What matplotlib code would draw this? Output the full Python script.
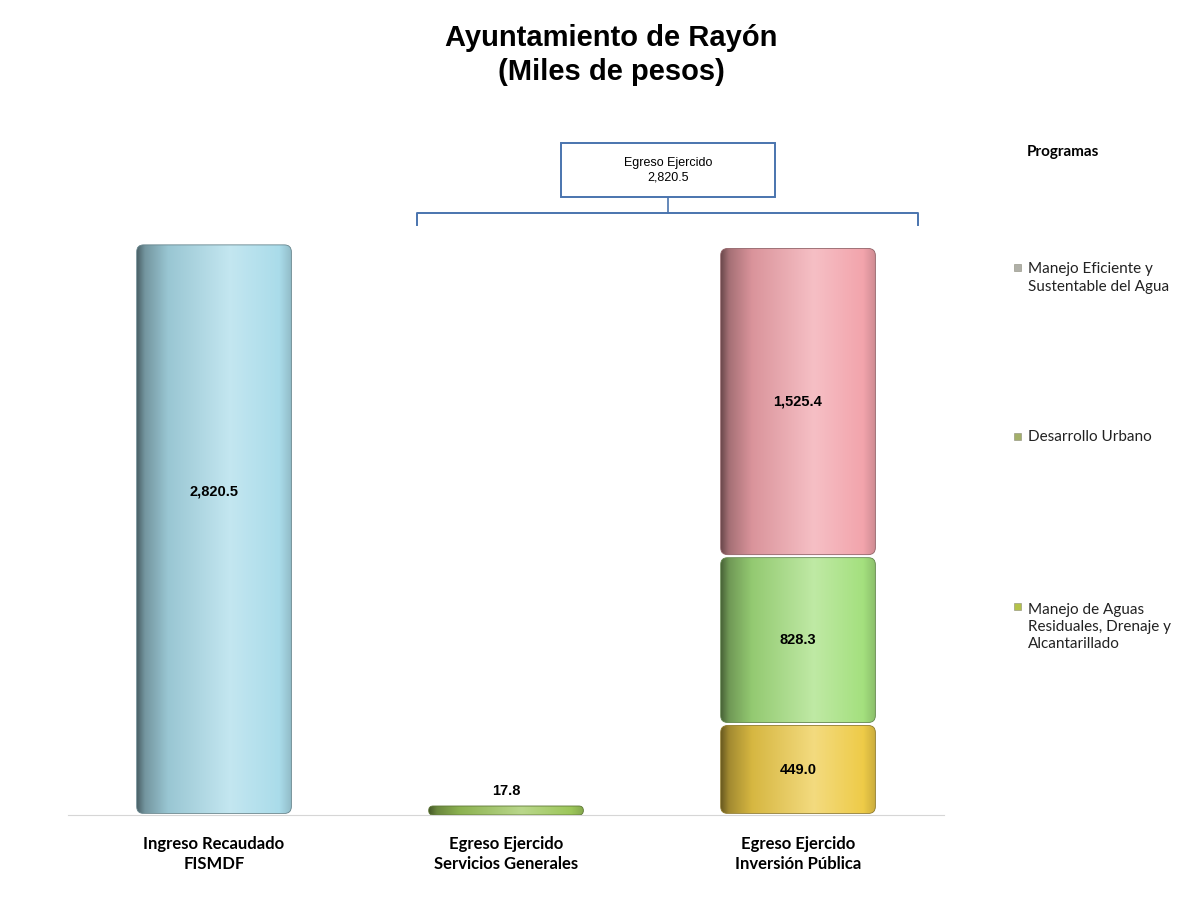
import numpy as np
import matplotlib.pyplot as plt
from matplotlib.patches import FancyBboxPatch, Rectangle
from matplotlib.colors import LinearSegmentedColormap, to_rgb

# --- data ---
categories = ['Ingreso Recaudado\nFISMDF',
              'Egreso Ejercido\nServicios Generales',
              'Egreso Ejercido\nInversión Pública']
ingreso_recaudado = 2820.5
servicios_generales = 17.8
egreso_total = 2820.5

# stacked from bottom to top in the third column
programas = ['Manejo de Aguas\nResiduales, Drenaje y\nAlcantarillado',
             'Desarrollo Urbano',
             'Manejo Eficiente y\nSustentable del Agua']
programas_valores = [449.0, 828.3, 1525.4]

# --- style ---
blue = '#aadcea'
pink = '#f2a4ac'
green = '#a4e07e'
yellow = '#eecb48'
green_dark = '#9cc65a'
prog_colors = [yellow, green, pink]
legend_marker_colors = ['#b4c24a', '#a4b06a', '#b0b0a8']

ARIAL = ['Liberation Sans', 'DejaVu Sans']
CALIBRI = ['Lato', 'DejaVu Sans']

W, H = 1202, 905
fig = plt.figure(figsize=(W / 100, H / 100), dpi=100)
ax_rect = [68 / W, 90 / H, 876 / W, 608 / H]
ax = fig.add_axes(ax_rect)
XLIM = (-0.5, 2.5)
YLIM = (0, 3000)

# data units per pixel
dx = (XLIM[1] - XLIM[0]) / (ax_rect[2] * W)
dy = (YLIM[1] - YLIM[0]) / (ax_rect[3] * H)
aspect = dy / dx


def shade_cmap(color):
    c = np.array(to_rgb(color))
    light = c + (1 - c) * 0.3
    stops = [(0.0, c * 0.45), (0.05, c * 0.68), (0.2, c * 0.9),
             (0.6, light), (0.92, c * 1.0), (1.0, c * 0.85)]
    return LinearSegmentedColormap.from_list('cyl', [(p, np.clip(v, 0, 1)) for p, v in stops])


def cylinder(x, bottom, height, width, color, min_px=0, gap_px=1.5):
    h_px = max(height / dy - 2 * gap_px, min_px)
    y0 = bottom + gap_px * dy
    h = h_px * dy
    r_px = min(7, h_px / 2, width / dx / 2)
    patch = FancyBboxPatch((x - width / 2, y0), width, h,
                           boxstyle=f'round,pad=0,rounding_size={r_px * dx}',
                           mutation_aspect=aspect,
                           facecolor='none', edgecolor=np.array(to_rgb(color)) * 0.6,
                           linewidth=0.6, zorder=3)
    ax.add_patch(patch)
    grad = np.linspace(0, 1, 256).reshape(1, -1)
    im = ax.imshow(grad, extent=[x - width / 2, x + width / 2, y0, y0 + h],
                   aspect='auto', cmap=shade_cmap(color), interpolation='bicubic', zorder=2)
    im.set_clip_path(patch)


x = np.arange(len(categories))
bw = 0.53
val_kw = dict(fontsize=10.5, fontweight='bold', family=ARIAL, zorder=4)

cylinder(x[0], 0, ingreso_recaudado, bw, blue)
# label sits a bit above the middle in the original
ax.annotate(f'{ingreso_recaudado:,.1f}', (x[0], ingreso_recaudado / 2), xytext=(0, 27),
            textcoords='offset points', ha='center', va='center', **val_kw)

cylinder(x[1], 0, servicios_generales, bw, green_dark, min_px=9, gap_px=0)
ax.annotate(f'{servicios_generales:,.1f}', (x[1], servicios_generales), xytext=(0, 10),
            textcoords='offset points', ha='center', va='bottom', **val_kw)

bottom = 0
for val, col in zip(programas_valores, prog_colors):
    cylinder(x[2], bottom, val, bw, col)
    ax.text(x[2], bottom + val / 2, f'{val:,.1f}', ha='center', va='center', **val_kw)
    bottom += val

ax.set_xlim(*XLIM)
ax.set_ylim(*YLIM)
ax.set_xticks(x)
ax.set_xticklabels(categories, fontsize=12, fontweight='bold', family=CALIBRI,
                   linespacing=1.3)
ax.tick_params(axis='x', length=0, pad=15)
ax.set_yticks([])
for s in ['top', 'left', 'right']:
    ax.spines[s].set_visible(False)
ax.spines['bottom'].set_color('#d6d6d6')
ax.spines['bottom'].set_linewidth(0.8)

# --- bracket and total box over the expenditure columns ---
line_col = '#4a74ae'
br_left, br_right = x[1] - 0.305, x[2] + 0.41
br_y = 2970
tick_y = 2911
ax.plot([br_left, br_left, br_right, br_right], [tick_y, br_y, br_y, tick_y],
        color=line_col, lw=1.4, clip_on=False, zorder=5)
box_cx = (br_left + br_right) / 2 + 0.002
box_w = 0.733
box_y0, box_y1 = 3049, 3315
ax.plot([box_cx, box_cx], [br_y, box_y0], color=line_col, lw=1.2, clip_on=False)
ax.add_patch(Rectangle((box_cx - box_w / 2, box_y0), box_w, box_y1 - box_y0,
                       facecolor='white', edgecolor=line_col, lw=1.4, clip_on=False, zorder=5))
ax.text(box_cx, (box_y0 + box_y1) / 2, f'Egreso Ejercido\n{egreso_total:,.1f}',
        ha='center', va='center', fontsize=9, family=ARIAL, linespacing=1.35,
        zorder=6, clip_on=False)

# --- title ---
fig.text(611 / W, 1 - 55 / H, 'Ayuntamiento de Rayón\n(Miles de pesos)', ha='center', va='center',
         fontsize=21, fontweight='bold', family=ARIAL, linespacing=1.3)

# --- legend ---
fig.text(1027 / W, 1 - 152 / H, 'Programas', ha='left', va='center', fontsize=11,
         fontweight='bold', family=CALIBRI)
legend_y = [278, 437, 627]
legend_labels = programas[::-1]
for yy, lab, mc in zip(legend_y, legend_labels, legend_marker_colors[::-1]):
    n = lab.count('\n') + 1
    top = yy - (n - 1) * 21 / 2
    fig.patches.append(Rectangle((1014 / W, 1 - (top + 3.5) / H), 7 / W, 7 / H,
                                 transform=fig.transFigure, facecolor=mc,
                                 edgecolor='#8a8a7a', lw=0.4))
    fig.text(1028 / W, 1 - yy / H, lab, ha='left', va='center', fontsize=11,
             family=CALIBRI, color='#222222', linespacing=1.3)

fig.savefig('out.png', dpi=100, facecolor='white')
